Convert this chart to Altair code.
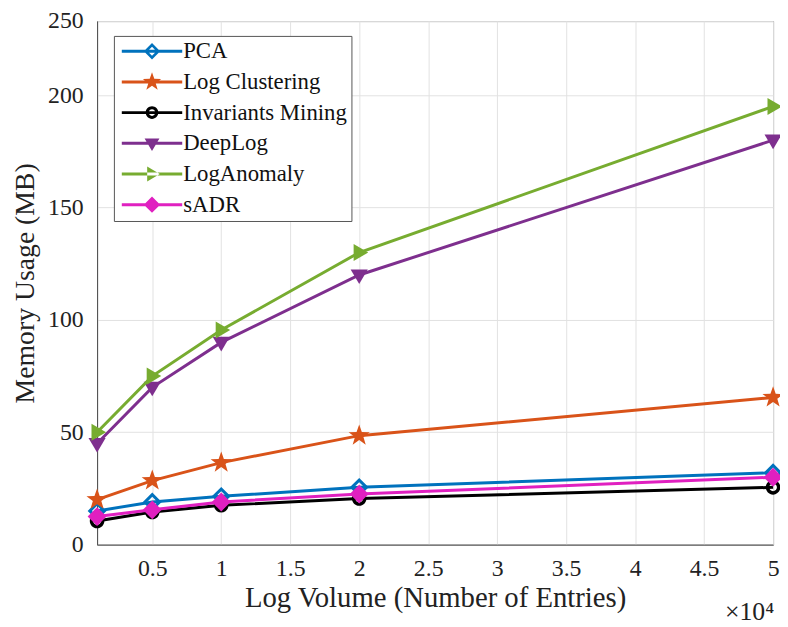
import math
import altair as alt
import pandas as pd

# ---------------- data ----------------
x_entries = [1000, 5000, 10000, 20000, 50000]
series_names = ["PCA", "Log Clustering", "Invariants Mining", "DeepLog", "LogAnomaly", "sADR"]
pca = [15, 19, 21.5, 25.5, 32]
log_clustering = [20, 28.5, 36.5, 48.5, 65.5]
invariants_mining = [10.5, 14.5, 17.5, 20.5, 25.5]
deeplog = [45, 70, 90, 120, 180]
loganomaly = [50, 75, 95.5, 130, 195]
sadr = [12.5, 15.5, 19, 22.5, 30]
x_ticks = [5000, 10000, 15000, 20000, 25000, 30000, 35000, 40000, 45000, 50000]
y_ticks = [0, 50, 100, 150, 200]
y_top = 233          # top of the visible value range in the picture
y_top_label = "250"  # label printed at the top edge in the picture

values = [pca, log_clustering, invariants_mining, deeplog, loganomaly, sadr]
rows = []
for name, vals in zip(series_names, values):
    for xv, yv in zip(x_entries, vals):
        rows.append({"series": name, "entries": xv, "memory": yv})
df = pd.DataFrame(rows)

# ---------------- style ----------------
colors = ["#0072BD", "#D95319", "#000000", "#7E2F8E", "#77AC30", "#E020C0"]
FONT = "Liberation Serif"


def poly(pts):
    return "M" + "L".join(f"{a:.3f},{b:.3f}" for a, b in pts) + "Z"


def star(r_out=1.3, r_in=0.52):
    pts = []
    for i in range(10):
        r = r_out if i % 2 == 0 else r_in
        ang = -math.pi / 2 + i * math.pi / 5
        pts.append((r * math.cos(ang), r * math.sin(ang)))
    return poly(pts)


diamond_ring = "M0,-1.1L1.1,0L0,1.1L-1.1,0Z M0,-0.6L-0.6,0L0,0.6L0.6,0Z"
circle_ring = ("M-0.85,0A0.85,0.85,0,1,1,0.85,0A0.85,0.85,0,1,1,-0.85,0Z "
               "M-0.45,0A0.45,0.45,0,1,0,0.45,0A0.45,0.45,0,1,0,-0.45,0Z")
tri_down = poly([(-1, -0.65), (1, -0.65), (0, 1.05)])
tri_right = poly([(-0.65, -1), (-0.65, 1), (1.05, 0)])
diamond = "M0,-1.1L1.1,0L0,1.1L-1.1,0Z"
markers = [diamond_ring, star(), circle_ring, tri_down, tri_right, diamond]
bar = "M-4.07,-0.2H4.07V0.2H-4.07Z"
legend_paths = [bar + " " + m for m in markers]

x_enc = alt.X(
    "entries:Q",
    scale=alt.Scale(domain=[1000, 50000], nice=False, zero=False),
    axis=alt.Axis(
        values=x_ticks,
        labelExpr="datum.value / 10000",
        labelFlush=False,
        title="Log Volume (Number of Entries)",
        titleFontSize=29,
        titlePadding=4,
        labelPadding=12,
        labelFont=FONT, titleFont=FONT, labelFontSize=24,
    ),
)
y_enc = alt.Y(
    "memory:Q",
    scale=alt.Scale(domain=[0, y_top], nice=False),
    axis=alt.Axis(values=y_ticks + [y_top],
                  labelExpr=f"datum.value >= {y_top} ? '{y_top_label}' : datum.label",
                  labelFlush=False,
                  title="Memory Usage (MB)", titleFontSize=28,
                  titlePadding=8, labelPadding=14,
                  labelFont=FONT, titleFont=FONT, labelFontSize=24),
)

layers = []
for name, col, m in zip(series_names, colors, markers):
    base = alt.Chart(df).transform_filter(alt.datum.series == name)
    layers.append(base.mark_line(strokeWidth=3, color=col).encode(x=x_enc, y=y_enc))
    layers.append(
        base.mark_point(shape=m, filled=True, color=col, size=300, opacity=1)
        .encode(x="entries:Q", y="memory:Q")
    )

leg = alt.Legend(title=None, orient="none", legendX=17, legendY=15,
                 symbolOpacity=1, symbolSize=225,
                 labelFont=FONT, labelFontSize=23, labelLimit=400,
                 labelColor="#111", symbolOffset=23, labelOffset=20,
                 rowPadding=7, padding=4, strokeColor="#555",
                 fillColor="white", symbolStrokeWidth=0)

legend_layer = alt.Chart(df).mark_point(filled=True, opacity=0).encode(
    x="entries:Q", y="memory:Q",
    color=alt.Color("series:N", scale=alt.Scale(domain=series_names, range=colors), legend=leg),
    shape=alt.Shape("series:N", scale=alt.Scale(domain=series_names, range=legend_paths), legend=leg),
)

chart = alt.layer(*layers, legend_layer).properties(
    width=683,
    height=529,
    autosize=alt.AutoSizeParams(type="none"),
    padding={"left": 90, "top": 10, "right": 7, "bottom": 80},
    title=alt.TitleParams(text="×10⁴", orient="bottom", anchor="end", font=FONT,
                          fontSize=26, fontWeight="normal", color="#222", offset=-14, dx=-10),
).configure(font=FONT).configure_axis(
    labelFont=FONT, titleFont=FONT,
    labelColor="#222", titleColor="#222", titleFontWeight="normal",
    gridColor="#e2e2e2", domainColor="#555", ticks=False, domainWidth=1,
).configure_legend(labelFont=FONT).configure_view(stroke="#555", strokeWidth=1)

chart.save("out.html", embed_options={"renderer": "svg", "actions": False})
